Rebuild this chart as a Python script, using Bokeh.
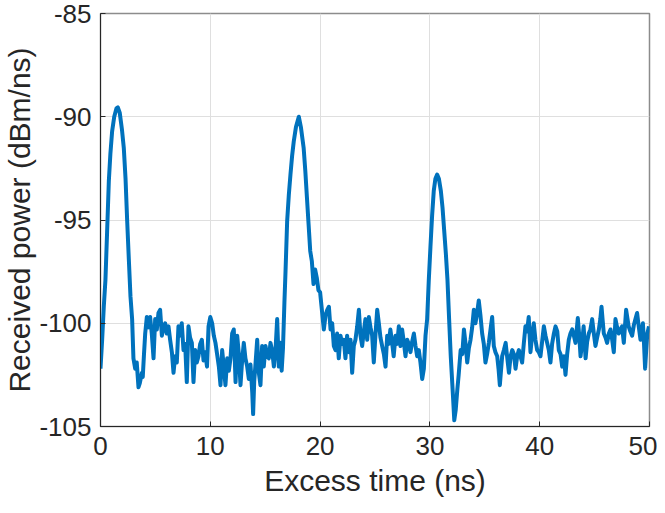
from bokeh.plotting import figure
from bokeh.models import Range1d, FixedTicker
from bokeh.embed import file_html
from bokeh.resources import INLINE

time_ns = [
    0.00, 0.15, 0.30, 0.45, 0.60, 0.76, 0.90, 1.06, 1.25, 1.45,
    1.58, 1.75, 1.95, 2.12, 2.28, 2.43, 2.58, 2.73, 2.88, 3.00,
    3.16, 3.30, 3.46, 3.58, 3.77, 3.85, 3.95, 4.07, 4.22, 4.37,
    4.52, 4.67, 4.83, 4.98, 5.13, 5.28, 5.43, 5.59, 5.74, 5.89,
    6.04, 6.19, 6.34, 6.50, 6.65, 6.80, 6.95, 7.10, 7.25, 7.40,
    7.56, 7.71, 7.86, 8.01, 8.16, 8.32, 8.47, 8.62, 8.77, 8.92,
    9.08, 9.23, 9.38, 9.53, 9.70, 9.84, 10.00, 10.17, 10.32, 10.47,
    10.62, 10.78, 10.93, 11.08, 11.23, 11.38, 11.54, 11.69, 11.84, 11.99,
    12.14, 12.30, 12.45, 12.60, 12.75, 12.90, 13.05, 13.20, 13.36, 13.51,
    13.66, 13.82, 13.90, 14.00, 14.10, 14.27, 14.42, 14.57, 14.72, 14.87,
    15.03, 15.18, 15.33, 15.48, 15.63, 15.79, 15.94, 16.09, 16.24, 16.39,
    16.50, 16.62, 16.75, 16.85, 17.00, 17.15, 17.30, 17.45, 17.60, 17.80,
    18.06, 18.25, 18.50, 18.65, 18.80, 18.95, 19.10, 19.25, 19.40, 19.55,
    19.70, 19.85, 20.00, 20.19, 20.34, 20.50, 20.65, 20.80, 20.95, 21.10,
    21.25, 21.40, 21.55, 21.70, 21.86, 22.00, 22.16, 22.31, 22.46, 22.62,
    22.77, 22.92, 23.07, 23.22, 23.38, 23.53, 23.68, 23.83, 23.98, 24.13,
    24.29, 24.44, 24.59, 24.74, 24.89, 25.05, 25.20, 25.35, 25.50, 25.65,
    25.81, 25.96, 26.11, 26.26, 26.40, 26.55, 26.70, 26.87, 27.02, 27.17,
    27.32, 27.47, 27.62, 27.78, 27.93, 28.08, 28.23, 28.38, 28.54, 28.69,
    28.84, 28.99, 29.14, 29.30, 29.45, 29.60, 29.75, 29.90, 30.05, 30.20,
    30.35, 30.50, 30.66, 30.82, 31.00, 31.15, 31.30, 31.45, 31.60, 31.75,
    31.90, 32.10, 32.22, 32.35, 32.50, 32.62, 32.80, 32.95, 33.10, 33.25,
    33.40, 33.55, 33.70, 33.85, 34.00, 34.15, 34.30, 34.45, 34.60, 34.76,
    34.91, 35.06, 35.21, 35.37, 35.52, 35.67, 35.82, 35.97, 36.13, 36.25,
    36.37, 36.58, 36.74, 36.90, 37.05, 37.20, 37.35, 37.50, 37.65, 37.80,
    37.95, 38.10, 38.25, 38.40, 38.55, 38.70, 38.85, 39.00, 39.16, 39.31,
    39.46, 39.61, 39.77, 39.92, 40.07, 40.22, 40.38, 40.53, 40.68, 40.83,
    40.98, 41.13, 41.29, 41.44, 41.60, 41.74, 41.90, 42.05, 42.20, 42.35,
    42.50, 42.65, 42.80, 42.96, 43.11, 43.26, 43.47, 43.60, 43.72, 43.87,
    44.00, 44.18, 44.32, 44.47, 44.62, 44.78, 44.93, 45.08, 45.23, 45.39,
    45.52, 45.63, 45.74, 45.84, 46.00, 46.14, 46.30, 46.45, 46.60, 46.75,
    46.90, 47.05, 47.20, 47.35, 47.50, 47.66, 47.87, 48.00, 48.10, 48.26,
    48.42, 48.57, 48.72, 48.87, 49.03, 49.18, 49.30, 49.40, 49.50, 49.60,
    49.70, 49.80, 49.95,
]

power_dbm_ns = [
    -102.2, -100.8, -99.2, -97.9, -95.6, -93.1, -91.8, -90.7, -90.0, -89.6,
    -89.55, -89.8, -90.6, -91.5, -93.0, -95.05, -96.9, -98.7, -99.8, -101.7,
    -102.2, -101.9, -103.1, -102.9, -102.4, -102.6, -101.6, -100.5, -99.7, -100.2,
    -99.7, -100.5, -101.7, -99.8, -100.3, -99.5, -99.35, -100.6, -100.2, -100.0,
    -100.5, -100.15, -100.8, -101.4, -102.4, -101.6, -101.9, -100.15, -100.6, -100.0,
    -101.3, -101.0, -102.85, -100.15, -100.7, -100.95, -102.85, -101.3, -101.9, -101.6,
    -101.0, -100.8, -101.8, -101.4, -102.1, -100.15, -99.7, -100.0, -100.6, -100.95,
    -101.5, -102.1, -103.0, -101.3, -102.1, -103.0, -101.7, -102.3, -101.7, -100.5,
    -100.3, -102.85, -100.6, -101.5, -103.0, -101.8, -100.95, -101.7, -102.1, -102.7,
    -102.0, -103.35, -104.4, -102.8, -102.1, -100.8, -102.4, -103.0, -101.1, -102.1,
    -101.1, -101.6, -101.7, -100.95, -101.3, -102.1, -101.3, -99.8, -102.1, -100.95,
    -102.3, -101.2, -99.0, -97.5, -95.05, -93.8, -92.8, -91.9, -91.2, -90.5,
    -90.0, -90.5, -91.5, -92.6, -93.9, -95.2, -96.5, -97.0, -98.1, -97.4,
    -97.8, -98.4, -98.5, -99.5, -100.3, -99.6, -99.35, -99.2, -100.3, -100.0,
    -101.1, -101.3, -100.5, -101.7, -100.6, -101.0, -100.8, -101.7, -100.6, -101.4,
    -100.8, -102.4, -101.1, -100.8, -100.15, -99.35, -100.6, -101.1, -100.4, -99.8,
    -100.8, -99.7, -100.2, -100.6, -101.9, -100.5, -99.35, -100.0, -100.7, -101.1,
    -101.5, -102.1, -100.6, -101.0, -100.3, -100.9, -101.6, -100.6, -101.0, -100.15,
    -101.1, -100.3, -100.9, -101.6, -100.8, -101.0, -101.4, -100.9, -100.5, -101.1,
    -101.6, -101.3, -101.9, -102.7, -102.2, -100.6, -99.8, -97.9, -96.3, -94.8,
    -93.6, -93.0, -92.8, -93.0, -93.6, -94.4, -95.5, -96.6, -97.9, -99.8,
    -101.6, -103.5, -104.7, -104.2, -103.2, -102.5, -101.3, -101.5, -100.3, -101.0,
    -101.9, -101.2, -100.8, -100.2, -99.35, -100.0, -99.5, -98.9, -99.6, -100.5,
    -101.0, -101.9, -101.5, -100.95, -100.3, -99.7, -101.1, -101.4, -101.6, -102.2,
    -103.0, -101.6, -101.3, -100.95, -101.7, -102.4, -101.6, -101.3, -101.5, -102.2,
    -101.6, -101.3, -101.6, -101.9, -101.0, -100.15, -100.4, -99.7, -101.4, -100.6,
    -100.0, -100.8, -101.3, -101.4, -101.6, -100.9, -100.15, -100.6, -100.95, -101.3,
    -101.9, -101.0, -100.5, -100.15, -100.4, -101.3, -101.5, -102.1, -101.6, -102.5,
    -101.5, -100.8, -100.5, -100.3, -100.6, -100.95, -99.75, -100.6, -101.6, -100.9,
    -100.15, -101.7, -100.9, -100.5, -100.3, -99.8, -100.5, -101.1, -100.7, -100.3,
    -99.8, -99.2, -99.9, -100.5, -100.7, -100.95, -100.5, -100.3, -100.8, -101.4,
    -99.8, -100.2, -100.5, -100.3, -100.15, -100.95, -99.35, -99.8, -100.15, -100.4,
    -100.6, -100.1, -99.8, -99.5, -100.2, -100.8, -100.3, -100.0, -101.0, -102.2,
    -101.3, -100.5, -100.15,
]

x_ticks = [0, 10, 20, 30, 40, 50]
y_ticks = [-105, -100, -95, -90, -85]
x_title = "Excess time (ns)"
y_title = "Received power (dBm/ns)"

FONT = "Liberation Sans"
TXT = "#262626"

p = figure(width=657, height=505, x_range=Range1d(0, 50), y_range=Range1d(-105, -85),
           output_backend="svg", toolbar_location=None,
           min_border_left=100, min_border_right=8, min_border_top=13, min_border_bottom=79)
p.outline_line_color = "#8c8c8c"
p.outline_line_width = 1.5
p.background_fill_color = "white"
p.border_fill_color = "white"

p.line(time_ns, power_dbm_ns, line_color="#0072BD", line_width=4, line_join="round")

for ax in (p.xaxis[0], p.yaxis[0]):
    ax.major_tick_in = 5
    ax.major_tick_out = 0
    ax.minor_tick_line_color = None
    ax.axis_line_color = TXT
    ax.major_tick_line_color = TXT
    ax.major_label_text_color = TXT
    ax.major_label_text_font = FONT
    ax.major_label_text_font_size = "26px"
    ax.axis_label_text_font = FONT
    ax.axis_label_text_font_size = "30px"
    ax.axis_label_text_font_style = "normal"
    ax.axis_label_text_color = TXT

xa = p.xaxis[0]
ya = p.yaxis[0]
xa.ticker = FixedTicker(ticks=x_ticks)
ya.ticker = FixedTicker(ticks=y_ticks)
xa.major_label_overrides = {t: str(t) for t in x_ticks}
ya.major_label_overrides = {t: str(t) for t in y_ticks}
xa.major_label_standoff = 10
ya.major_label_standoff = 9
xa.axis_label = x_title
ya.axis_label = y_title
xa.axis_label_standoff = 6
ya.axis_label_standoff = 0

p.xgrid.ticker = FixedTicker(ticks=x_ticks)
p.ygrid.ticker = FixedTicker(ticks=y_ticks)
p.grid.grid_line_color = "#dfdfdf"
p.grid.grid_line_width = 1

open("out.html", "w").write(file_html(p, INLINE))
